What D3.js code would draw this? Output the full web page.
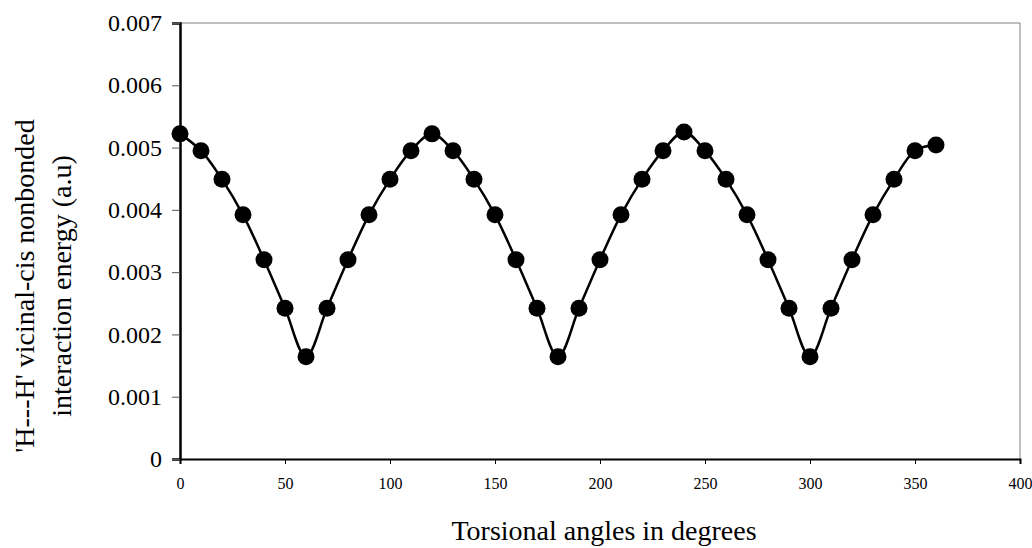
<!DOCTYPE html>
<html>
<head>
<meta charset="utf-8">
<script src="https://cdn.jsdelivr.net/npm/d3@7"></script>
<style>
  body { margin: 0; background: #fff; }
  text { font-family: "Liberation Serif", "Times New Roman", serif; fill: #000; }
</style>
</head>
<body>
<div id="chart"></div>
<script>
// torsional angle (degrees) and energy (a.u.)
var angles = [0, 10, 20, 30, 40, 50, 60, 70, 80, 90, 100, 110, 120, 130, 140, 150, 160, 170, 180,
              190, 200, 210, 220, 230, 240, 250, 260, 270, 280, 290, 300, 310, 320, 330, 340, 350, 360];
var energy = [0.00522, 0.00495, 0.00449, 0.00392, 0.00320, 0.00242, 0.00164, 0.00242, 0.00320, 0.00392,
              0.00449, 0.00495, 0.00522, 0.00495, 0.00449, 0.00392, 0.00320, 0.00242, 0.00164,
              0.00242, 0.00320, 0.00392, 0.00449, 0.00495, 0.00525, 0.00495, 0.00449, 0.00392,
              0.00320, 0.00242, 0.00164, 0.00242, 0.00320, 0.00392, 0.00449, 0.00495, 0.00504];
var xTicks = [0, 50, 100, 150, 200, 250, 300, 350, 400];
var yTicks = [0, 0.001, 0.002, 0.003, 0.004, 0.005, 0.006, 0.007];

function init() {
    var W = 1032, H = 548;
    var margin = { top: 23, right: 12, bottom: 89, left: 180 },
        w = W - margin.left - margin.right,
        h = H - margin.top - margin.bottom;

    var data = angles.map((a, i) => ({ x: a, y: energy[i] }));

    var svg = d3.select("#chart")
        .append("svg")
        .attr("width", W)
        .attr("height", H);

    var g = svg.append("g")
        .attr("transform", `translate(${margin.left},${margin.top})`);

    var xScale = d3.scaleLinear().domain([0, 400]).range([0, w]);
    var yScale = d3.scaleLinear().domain([0, 0.007]).range([h, 0]);

    // thin grey frame on top and right
    g.append("path")
        .attr("d", `M0,0H${w}V${h}`)
        .attr("fill", "none")
        .attr("stroke", "#808080")
        .attr("stroke-width", 1);

    // x axis
    var xAxis = g.append("g")
        .attr("transform", `translate(0,${h})`)
        .call(d3.axisBottom(xScale).tickValues(xTicks).tickSize(5).tickPadding(14));
    xAxis.select(".domain").attr("stroke", "#000").attr("stroke-width", 2);
    xAxis.selectAll(".tick line").attr("stroke", "#000").attr("stroke-width", 1);
    xAxis.selectAll("text")
        .style("font-family", "Liberation Serif, serif")
        .style("font-size", "16px");

    // y axis
    var yAxis = g.append("g")
        .call(d3.axisLeft(yScale).tickValues(yTicks).tickSize(8).tickPadding(10)
            .tickFormat(d => d === 0 ? "0" : d3.format(".3f")(d)));
    yAxis.select(".domain").attr("stroke", "#000").attr("stroke-width", 2.5);
    yAxis.selectAll(".tick line").attr("stroke", "#555").attr("stroke-width", 1);
    yAxis.selectAll("text")
        .style("font-family", "Liberation Serif, serif")
        .style("font-size", "24px");

    // smooth line
    var line = d3.line()
        .x(d => xScale(d.x))
        .y(d => yScale(d.y))
        .curve(d3.curveCatmullRom.alpha(0.5));

    g.append("path")
        .datum(data)
        .attr("d", line)
        .attr("fill", "none")
        .attr("stroke", "#000")
        .attr("stroke-width", 2.5);

    g.selectAll("circle")
        .data(data)
        .enter()
        .append("circle")
        .attr("cx", d => xScale(d.x))
        .attr("cy", d => yScale(d.y))
        .attr("r", 8.5)
        .attr("fill", "#000");

    // axis titles
    svg.append("text")
        .attr("x", 604)
        .attr("y", 540)
        .attr("text-anchor", "middle")
        .style("font-size", "28px")
        .text("Torsional angles in degrees");

    var yt = svg.append("text")
        .attr("transform", "translate(34,286) rotate(-90)")
        .attr("text-anchor", "middle")
        .style("font-size", "28px");
    yt.append("tspan").attr("x", 0).attr("y", 0).text("'H---H' vicinal-cis nonbonded");
    yt.append("tspan").attr("x", 0).attr("y", 37).text("interaction energy (a.u)");
}

window.onload = init;
</script>
</body>
</html>
